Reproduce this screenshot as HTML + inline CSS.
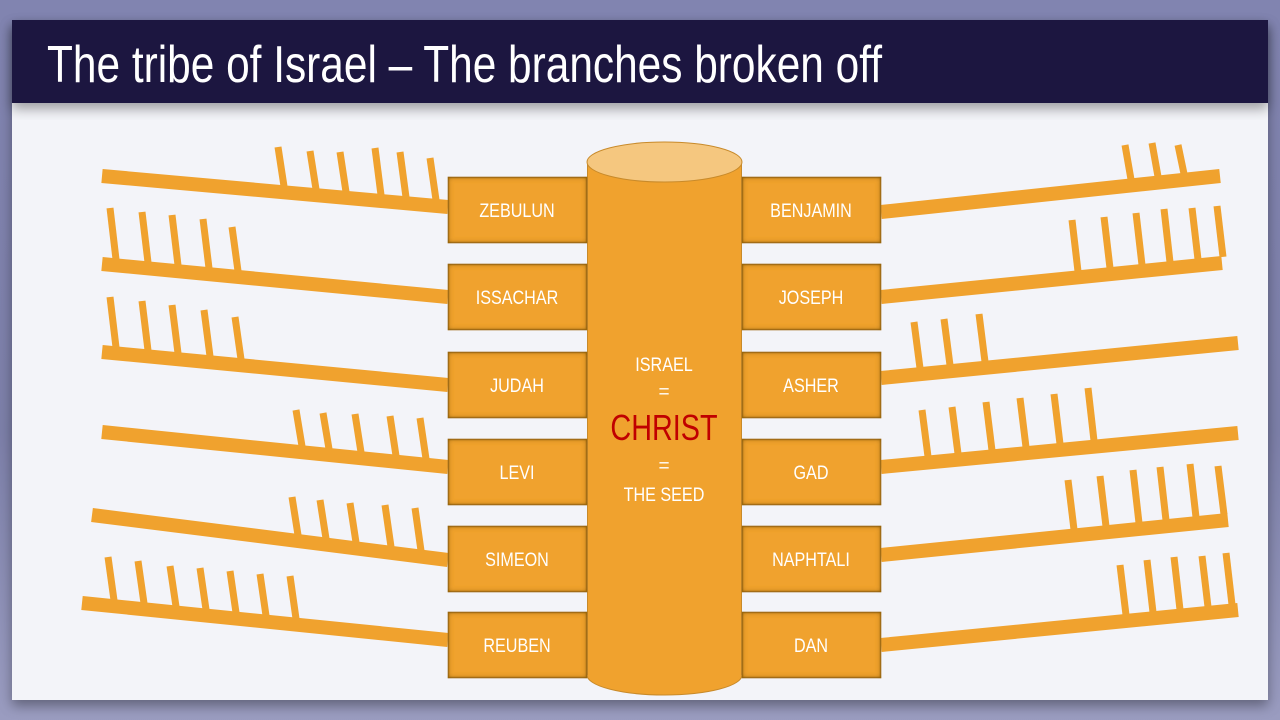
<!DOCTYPE html>
<html><head><meta charset="utf-8"><style>
html,body{margin:0;padding:0;width:1280px;height:720px;overflow:hidden;background:linear-gradient(#8184b0,#7c7fa8 60%,#9a9cc0);}
svg{display:block}
</style></head><body>
<svg id="s" width="1280" height="720" xmlns="http://www.w3.org/2000/svg">
<defs>
<filter id="sh" x="-10%" y="-10%" width="120%" height="130%"><feDropShadow dx="0" dy="6" stdDeviation="6" flood-color="#000" flood-opacity="0.35"/></filter>
<filter id="in"><feFlood flood-color="#8a5a10"/><feComposite in2="SourceAlpha" operator="out"/><feGaussianBlur stdDeviation="3"/><feComposite in2="SourceAlpha" operator="in"/><feMerge><feMergeNode in="SourceGraphic"/><feMergeNode/></feMerge></filter>
</defs>
<rect x="12" y="20" width="1256" height="680" fill="#f3f4f9" filter="url(#sh)"/>
<rect x="12" y="20" width="1256" height="83" fill="#1c1840" filter="url(#sh)"/>
<text x="47" y="82" fill="#fff" font-family="Liberation Sans, sans-serif" font-size="52" textLength="835" lengthAdjust="spacingAndGlyphs" font-weight="300">The tribe of Israel – The branches broken off</text>
<g id="br" stroke="#f0a22e" fill="none"></g>
<g id="cyl">
<rect x="587" y="162" width="155" height="513" fill="#f0a22e"/>
<ellipse cx="664.5" cy="675" rx="77.5" ry="20" fill="#f0a22e" stroke="#c88a2a" stroke-width="1"/>
<rect x="587.5" y="162" width="154" height="512" fill="#f0a22e"/>
<line x1="587.5" y1="162" x2="587.5" y2="675" stroke="#c88a2a"/>
<line x1="741.5" y1="162" x2="741.5" y2="675" stroke="#c88a2a"/>
<ellipse cx="664.5" cy="162" rx="77.5" ry="20" fill="#f5c77f" stroke="#c88a2a" stroke-width="1"/>
</g>
<g id="bx" font-family="Liberation Sans, sans-serif" font-size="19" fill="#fff" text-anchor="middle"></g>
<g font-family="Liberation Sans, sans-serif" fill="#fff" text-anchor="middle">
<text x="664" y="371" font-size="19" transform="translate(664 0) scale(0.85 1) translate(-664 0)">ISRAEL</text>
<text x="664" y="398" font-size="19">=</text>
<text x="664" y="440" font-size="36" fill="#c00000" transform="translate(664 0) scale(0.8 1) translate(-664 0)">CHRIST</text>
<text x="664" y="472" font-size="19">=</text>
<text x="664" y="501" font-size="19" transform="translate(664 0) scale(0.85 1) translate(-664 0)">THE SEED</text>
</g>
</svg>
<script>
var NS="http://www.w3.org/2000/svg";
function el(p,n,a){var e=document.createElementNS(NS,n);for(var k in a)e.setAttribute(k,a[k]);p.appendChild(e);return e;}
var br=document.getElementById('br');
// [x1,y1,x2,y2, ticks[[x,top]], side]
var B=[
[102,176,448,207,[[278,147],[310,151],[340,152],[375,148],[400,152],[430,158]],'L'],
[102,264,448,297,[[110,208],[142,212],[172,215],[203,219],[232,227]],'L'],
[102,352,448,385,[[110,297],[142,301],[172,305],[204,310],[235,317]],'L'],
[102,432,448,467,[[296,410],[323,413],[355,414],[390,416],[420,418]],'L'],
[92,515,448,560,[[292,497],[320,500],[350,503],[385,505],[415,508]],'L'],
[82,603,448,640,[[108,557],[138,561],[170,566],[200,568],[230,571],[260,574],[290,576]],'L'],
[881,212,1220,176,[[1125,145],[1152,143],[1178,145]],'R'],
[881,297,1222,263,[[1072,220],[1104,217],[1136,213],[1164,209],[1192,208],[1217,206]],'R'],
[881,378,1238,343,[[914,322],[944,319],[979,314]],'R'],
[881,467,1238,433,[[922,410],[952,407],[986,402],[1020,398],[1054,394],[1088,388]],'R'],
[881,555,1228,520,[[1068,480],[1100,476],[1133,470],[1160,467],[1190,464],[1218,466]],'R'],
[881,645,1238,610,[[1120,565],[1147,560],[1174,557],[1202,556],[1226,553]],'R']
];
B.forEach(function(b){
 el(br,'line',{x1:b[0],y1:b[1],x2:b[2],y2:b[3],'stroke-width':14});
 var m=(b[3]-b[1])/(b[2]-b[0]);
 b[4].forEach(function(t){
  var bx=b[6]=='L'?t[0]-3:t[0]+6;
  var by=b[1]+m*(bx-b[0])-6;
  el(br,'line',{x1:bx,y1:by,x2:t[0],y2:t[1],'stroke-width':7});
 });
});
var bxg=document.getElementById('bx');
var L=['ZEBULUN','ISSACHAR','JUDAH','LEVI','SIMEON','REUBEN'],R=['BENJAMIN','JOSEPH','ASHER','GAD','NAPHTALI','DAN'];
var Y=[177,264,352,439,526,612];
for(var i=0;i<6;i++){
 [[448,L[i]],[742,R[i]]].forEach(function(p){
  el(bxg,'rect',{x:p[0]+0.5,y:Y[i]+0.5,width:138,height:65,fill:'#f0a22e',stroke:'#b07820','stroke-width':1.5,filter:'url(#in)'});
  var cx=p[0]+69;
  var t=el(bxg,'text',{x:cx,y:Y[i]+40,transform:'translate('+cx+' 0) scale(0.85 1) translate('+(-cx)+' 0)'});
  t.textContent=p[1];
 });
}
</script>
</body></html>
